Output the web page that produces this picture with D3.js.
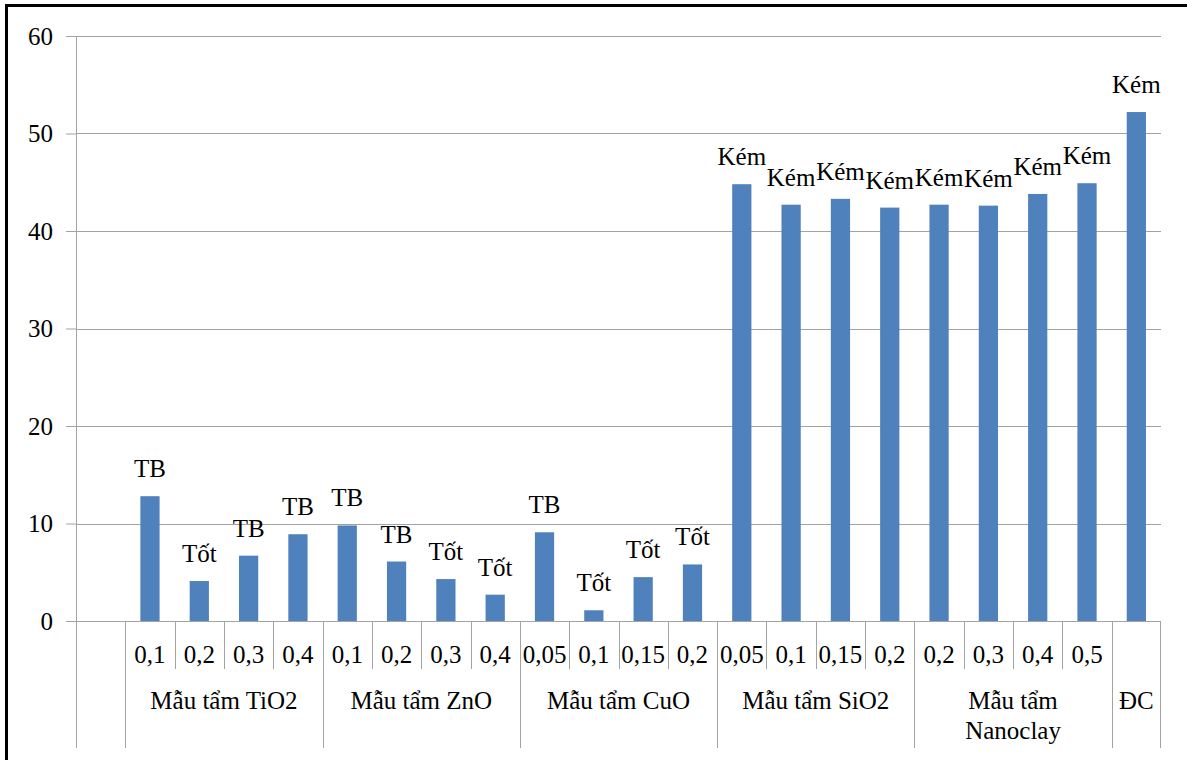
<!DOCTYPE html>
<html>
<head>
<meta charset="utf-8">
<script src="https://cdn.jsdelivr.net/npm/d3@7"></script>
<style>
  html, body { margin: 0; padding: 0; background: #fff; }
  svg { display: block; }
</style>
</head>
<body>
<svg id="chart" width="1187" height="760"></svg>
<script>
// Groups of samples on the outer axis level and how many bars each contains
const groupNames = ["", "Mẫu tẩm TiO2", "Mẫu tẩm ZnO", "Mẫu tẩm CuO", "Mẫu tẩm SiO2", "Mẫu tẩm Nanoclay", "ĐC"];
const groupSizes = [1, 4, 4, 4, 4, 4, 1];

// Inner axis labels (concentration), one per slot
const concentrations = ["",
  "0,1", "0,2", "0,3", "0,4",
  "0,1", "0,2", "0,3", "0,4",
  "0,05", "0,1", "0,15", "0,2",
  "0,05", "0,1", "0,15", "0,2",
  "0,2", "0,3", "0,4", "0,5",
  ""];

// Measured values, one per slot (first slot is empty)
const values = [null,
  12.8, 4.1, 6.7, 8.9,
  9.8, 6.1, 4.3, 2.7,
  9.1, 1.1, 4.5, 5.8,
  44.8, 42.7, 43.3, 42.4,
  42.7, 42.6, 43.8, 44.9,
  52.2];

// Quality rating shown above each bar
const ratings = ["",
  "TB", "Tốt", "TB", "TB",
  "TB", "TB", "Tốt", "Tốt",
  "TB", "Tốt", "Tốt", "Tốt",
  "Kém", "Kém", "Kém", "Kém",
  "Kém", "Kém", "Kém", "Kém",
  "Kém"];

const yTicks = [0, 10, 20, 30, 40, 50, 60];

const svg = d3.select("#chart");
const W = 1187, H = 760;
const plotLeft = 76, plotRight = 1161, plotTop = 36, plotBottom = 621;
const innerSepBottom = 669, groupSepBottom = 748;
const fontSize = 25;
const serif = "'Liberation Serif', 'Times New Roman', Tinos, 'Noto Serif', 'DejaVu Serif', FreeSerif, 'Nimbus Roman', serif";
const gridColor = "#a3a3a3";
const barColor = "#4f81bd";

const idx = d3.range(values.length);
const x = d3.scaleBand().domain(idx).range([plotLeft, plotRight]).paddingInner(0).paddingOuter(0);
const y = d3.scaleLinear().domain([0, 60]).range([plotBottom, plotTop]);
const barW = x.bandwidth() * 0.39;

function textStyle(sel) {
  return sel.style("font-family", serif).style("font-size", fontSize + "px").style("fill", "#000");
}

// Outer frame (top and left edges)
svg.append("line").attr("x1", 6.5).attr("x2", W).attr("y1", 5.5).attr("y2", 5.5)
  .attr("stroke", "#000").attr("stroke-width", 3);
svg.append("line").attr("x1", 6.5).attr("x2", 6.5).attr("y1", 4).attr("y2", H)
  .attr("stroke", "#000").attr("stroke-width", 3);

// Value axis with gridlines
const yAxis = d3.axisLeft(y).tickValues(yTicks).tickSize(10).tickPadding(13).tickFormat(d3.format("d"));
const gy = svg.append("g").attr("transform", `translate(${plotLeft},0)`).call(yAxis);
gy.select(".domain").remove();
gy.selectAll(".tick line").attr("stroke", gridColor);
gy.selectAll(".tick text").call(textStyle).attr("dy", "0.33em");

svg.append("g").selectAll("line").data(yTicks).join("line")
  .attr("x1", plotLeft).attr("x2", plotRight)
  .attr("y1", d => Math.round(y(d)) + 0.5).attr("y2", d => Math.round(y(d)) + 0.5)
  .attr("stroke", gridColor).attr("stroke-width", 1);

// Vertical axis line extending through the category label area
svg.append("line").attr("x1", plotLeft + 0.5).attr("x2", plotLeft + 0.5)
  .attr("y1", plotTop).attr("y2", groupSepBottom).attr("stroke", gridColor);

// Bars
svg.append("g").selectAll("rect").data(idx.filter(i => values[i] != null)).join("rect")
  .attr("x", i => x(i) + (x.bandwidth() - barW) / 2)
  .attr("width", barW)
  .attr("y", i => y(values[i]))
  .attr("height", i => y(0) - y(values[i]))
  .attr("fill", barColor);

// Rating labels above bars
svg.append("g").selectAll("text").data(idx.filter(i => values[i] != null)).join("text")
  .attr("x", i => x(i) + x.bandwidth() / 2)
  .attr("y", i => y(values[i]) - 19)
  .attr("text-anchor", "middle")
  .call(textStyle)
  .text(i => ratings[i]);

// Multi-level category axis
const starts = [];
let acc = 0;
groupSizes.forEach(s => { starts.push(acc); acc += s; });

const axisG = svg.append("g");
// Separators between slots; group edges run lower
idx.slice(1).forEach(i => {
  const isGroupEdge = starts.includes(i);
  const xx = Math.round(x(i)) + 0.5;
  axisG.append("line").attr("x1", xx).attr("x2", xx)
    .attr("y1", plotBottom).attr("y2", isGroupEdge ? groupSepBottom : innerSepBottom)
    .attr("stroke", gridColor);
});
axisG.append("line").attr("x1", plotRight - 0.5).attr("x2", plotRight - 0.5)
  .attr("y1", plotBottom).attr("y2", groupSepBottom).attr("stroke", gridColor);

// Concentration labels
axisG.selectAll("text.conc").data(idx).join("text").attr("class", "conc")
  .attr("x", i => x(i) + x.bandwidth() / 2)
  .attr("y", 663)
  .attr("text-anchor", "middle")
  .call(textStyle)
  .text(i => concentrations[i]);

// Group labels, wrapped when wider than their span
groupNames.forEach((name, g) => {
  if (!name) return;
  const x0 = x(starts[g]);
  const x1 = x(starts[g] + groupSizes[g] - 1) + x.bandwidth();
  const cx = (x0 + x1) / 2;
  const avail = (x1 - x0) - 6;
  const t = axisG.append("text").attr("x", cx).attr("y", 709)
    .attr("text-anchor", "middle")
    .call(textStyle).text(name);
  if (t.node().getComputedTextLength() > avail) {
    const words = name.split(" ");
    const lines = [];
    let line = [];
    words.forEach(w => {
      t.text(line.concat(w).join(" "));
      if (t.node().getComputedTextLength() > avail && line.length) {
        lines.push(line.join(" "));
        line = [w];
      } else {
        line.push(w);
      }
    });
    lines.push(line.join(" "));
    t.text("");
    lines.forEach((l, k) => {
      t.append("tspan").attr("x", cx).attr("y", 709 + k * 30).text(l);
    });
  }
});
</script>
</body>
</html>
